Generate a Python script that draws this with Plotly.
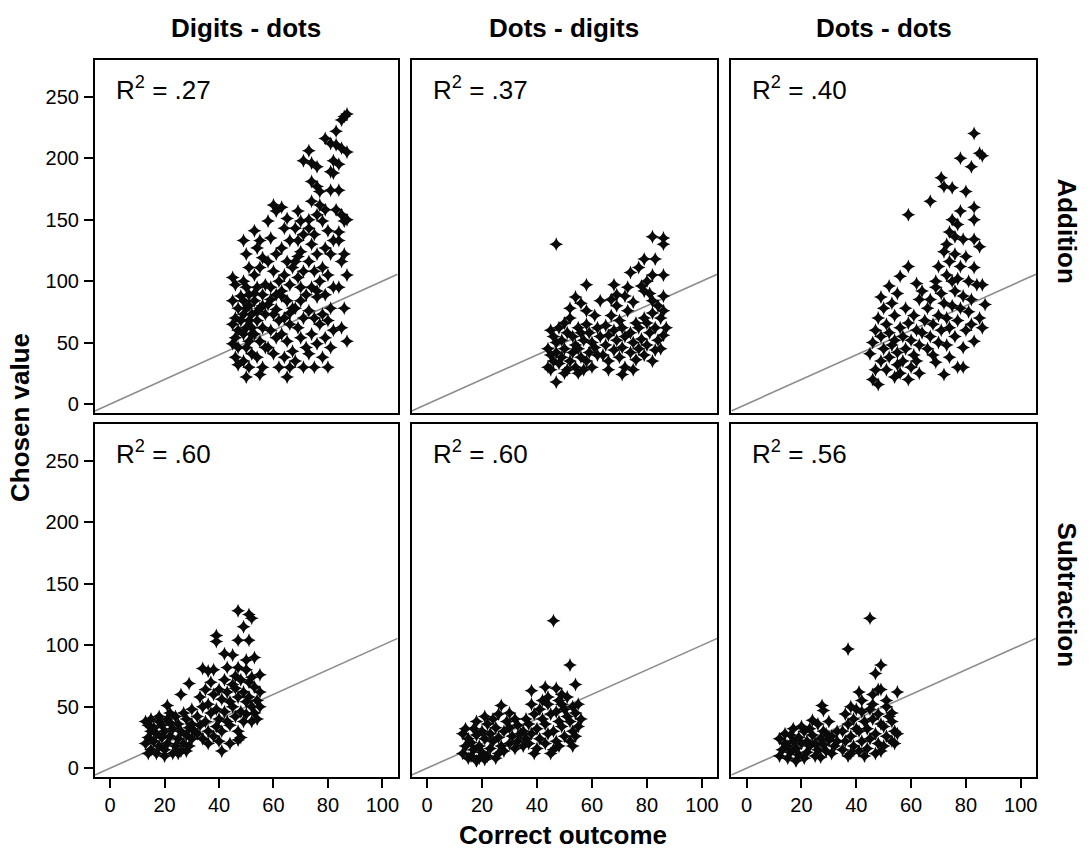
import plotly.graph_objects as go

# ---------------- data ----------------
columns = ["Digits - dots", "Dots - digits", "Dots - dots"]
rows = ["Addition", "Subtraction"]
r2_labels = [".27", ".37", ".40", ".60", ".60", ".56"]
x_ticks = [0, 20, 40, 60, 80, 100]
y_ticks = [0, 50, 100, 150, 200, 250]

add_digits_dots = [
    (45,103),(46,97),(45,84),(47,78),(46,70),(45,65),(47,60),(46,54),(45,49),(47,46),(46,38),(47,32),(48,68),(48,88),
    (49,133),(50,122),(51,111),(49,100),(50,95),(51,89),(49,84),(50,78),(52,73),(49,73),(51,68),(50,62),(52,57),(49,57),
    (51,51),(50,46),(52,41),(49,35),(51,30),(50,22),(52,62),(51,80),
    (53,141),(55,133),(54,127),(56,119),(55,111),(53,105),(57,97),(54,95),(56,89),(53,84),(55,78),(57,73),(54,68),
    (56,62),(53,57),(55,51),(57,46),(54,38),(56,30),(55,24),(53,90),(56,80),(54,75),
    (60,162),(61,157),(58,149),(59,135),(61,122),(58,116),(60,108),(62,100),(59,95),(61,89),(58,81),(60,73),(62,68),
    (59,60),(61,54),(58,46),(60,41),(62,30),(59,85),(61,77),
    (63,160),(65,151),(64,143),(66,133),(63,127),(65,116),(67,111),(64,105),(66,97),(63,92),(65,84),(67,78),(64,70),
    (66,65),(63,57),(65,51),(67,43),(64,38),(66,30),(65,22),(63,88),(66,74),
    (69,157),(70,149),(68,143),(71,138),(69,133),(70,124),(68,116),(71,108),(69,103),(70,95),(72,89),(68,78),(71,70),
    (69,62),(70,54),(72,46),(68,35),(71,30),(70,84),(69,120),
    (73,206),(71,198),(74,196),(76,193),(74,181),(76,177),(77,173),(74,165),(77,162),(76,154),(73,143),(75,138),
    (74,130),(76,122),(73,116),(75,108),(77,100),(74,95),(76,87),(73,76),(75,70),(77,65),(74,57),(76,49),(73,41),
    (75,30),(73,150),(76,92),
    (79,216),(81,212),(82,198),(81,189),(82,188),(79,158),(83,158),(78,149),(80,141),(82,133),(79,127),(81,122),
    (78,111),(80,105),(82,95),(79,89),(81,78),(78,73),(80,68),(82,60),(79,54),(81,46),(78,38),(80,30),(83,222),(81,174),
    (87,236),(86,234),(85,231),(83,211),(85,208),(87,205),(84,195),(84,174),(87,150),(85,154),(86,149),(84,133),
    (86,122),(85,116),(87,105),(84,95),(86,78),(85,62),(87,51),(84,140),
]

add_dots_digits = [
    (47,130),(82,136),(86,135),(86,130),(79,118),(83,118),(74,107),(77,111),(82,105),(86,105),(68,97),(58,97),
    (54,87),(56,82),(63,84),(69,89),(72,88),(79,92),(82,84),(86,88),
    (44,45),(45,40),(46,35),(44,30),(45,28),(47,50),(46,55),(48,62),(47,42),(48,33),(49,38),(50,45),(49,52),(51,58),
    (50,66),(52,70),(51,28),(52,35),(53,42),(54,48),(53,55),(55,62),(54,30),(56,38),(55,45),(57,52),(56,58),(58,65),
    (57,28),(58,35),(59,42),(60,50),(59,58),(61,72),(60,30),(62,40),(61,46),(63,55),(62,62),(47,18),(50,25),(55,25),
    (45,60),(52,78),(58,76),
    (64,40),(65,48),(66,56),(65,64),(67,72),(66,35),(68,44),(69,52),(68,60),(70,68),(69,80),(70,38),(71,46),(72,55),
    (71,62),(73,76),(72,30),(74,42),(75,50),(74,58),(76,66),(75,83),(76,36),(77,45),(78,53),(77,62),(79,70),(78,96),
    (79,40),(80,48),(81,58),(80,66),(82,74),(81,90),(83,44),(84,52),(83,62),(85,70),(84,80),(86,56),(85,45),(87,62),
    (71,24),(66,28),(75,28),(82,35),(86,76),(80,100),(73,95),(67,85),
]

add_dots_dots = [
    (83,220),(78,200),(82,193),(85,204),(86,202),(71,184),(72,177),(75,176),(80,173),(67,165),(59,154),(78,157),
    (83,160),(83,150),
    (75,150),(77,146),(74,140),(76,136),(73,130),(79,134),(83,134),(85,128),(72,124),(76,122),(80,120),(74,116),
    (78,112),(83,111),(70,112),(59,112),(73,105),(77,102),(81,100),(86,97),(69,100),(52,96),(49,87),(56,104),(62,98),
    (45,41),(46,20),(48,16),(46,50),(47,60),(48,70),(49,35),(50,45),(49,55),(51,65),(50,78),(51,28),(52,38),(53,48),
    (52,58),(54,72),(53,82),(54,22),(55,32),(55,42),(54,52),(56,62),(55,90),(47,28),
    (56,25),(57,35),(58,45),(57,55),(59,66),(58,78),(60,30),(61,40),(60,52),(62,60),(61,72),(63,85),(62,35),(63,48),
    (64,58),(65,68),(64,92),(59,20),(63,25),(66,78),
    (66,45),(67,55),(68,65),(67,85),(69,95),(68,40),(70,50),(71,60),(70,72),(72,82),(71,90),(73,48),(74,62),(73,70),
    (75,80),(76,92),(74,38),(76,55),(77,68),(78,78),(79,88),(77,30),(79,46),(80,60),(72,24),(79,30),(81,75),(82,85),
    (69,34),(75,100),
    (84,97),(87,81),(86,62),(83,51),(85,70),(82,65),
]

sub_digits_dots = [
    (47,128),(51,125),(52,122),(49,115),(39,108),(39,103),(47,104),(51,104),(42,93),(45,92),(50,88),(53,90),(34,81),
    (36,79),(38,80),(43,82),(47,82),(55,76),(29,69),(26,60),(21,51),(52,38),(47,23),(41,14),
    (13,20),(14,25),(15,30),(14,35),(13,38),(15,15),(16,22),(17,28),(16,33),(18,38),(17,12),(18,18),(19,25),(20,30),
    (19,35),(21,40),(20,15),(21,20),(22,26),(23,32),(22,37),(24,42),(23,12),(24,18),(25,24),(26,30),(25,36),(27,45),
    (26,14),(27,20),(28,27),(29,33),(28,40),(30,48),(29,18),(30,24),(31,30),(30,36),(15,40),(18,42),(22,45),(25,12),
    (28,14),(20,10),(14,12),
    (32,28),(33,35),(32,42),(34,50),(33,58),(35,64),(34,24),(36,30),(35,38),(37,45),(36,52),(38,60),(37,70),(38,26),
    (39,34),(40,40),(39,48),(41,56),(40,64),(42,72),(41,30),(43,38),(42,46),(44,54),(43,62),(45,68),(44,35),(46,42),
    (45,50),(47,58),(46,65),(48,72),(47,30),(49,38),(48,46),(50,54),(49,62),(51,70),(50,44),(52,50),(51,58),(53,66),
    (52,74),(54,55),(53,45),(55,62),(54,40),(48,25),(44,20),(40,22),(36,20),(46,75),(50,80),(55,50),
]

sub_dots_digits = [
    (46,120),(52,84),(54,68),(38,63),(43,66),(47,65),(27,51),(49,60),(44,58),(48,55),
    (13,12),(14,18),(15,24),(13,28),(16,10),(17,15),(16,21),(18,27),(17,32),(19,8),(20,13),(19,18),(21,24),(20,30),
    (22,36),(22,10),(23,16),(24,22),(23,28),(25,33),(24,40),(26,12),(27,18),(26,25),(28,30),(29,38),(28,14),(30,20),
    (31,26),(30,33),(32,16),(33,22),(34,28),(33,35),(35,18),(36,24),(15,8),(18,6),(21,7),(25,8),(14,32),(18,38),
    (21,42),(26,44),(30,45),(32,40),(35,30),
    (37,20),(38,28),(37,36),(39,44),(38,52),(40,16),(41,24),(40,32),(42,40),(41,48),(43,20),(44,28),(43,36),(45,44),
    (44,52),(46,15),(47,22),(46,30),(48,38),(47,46),(49,52),(48,18),(50,26),(49,34),(51,42),(50,48),(52,22),(53,30),
    (52,38),(54,45),(53,50),(55,34),(54,26),(56,40),(45,12),(42,55),(51,58),(36,40),(39,12),(53,18),(55,52),
]

sub_dots_dots = [
    (45,122),(37,97),(49,84),(47,77),(48,64),(49,64),(55,62),(41,62),(27.5,51),(28,47),(42,55),(38,50),(24,39),
    (46,60),(51,55),
    (12,10),(13,15),(14,20),(12,24),(15,8),(16,13),(15,18),(17,22),(16,27),(18,6),(19,11),(18,16),(20,20),(19,25),
    (21,30),(21,8),(22,13),(23,18),(22,22),(24,27),(23,32),(25,10),(26,15),(25,20),(27,24),(28,30),(27,9),(29,14),
    (28,19),(30,23),(29,28),(31,12),(32,18),(31,26),(33,22),(14,28),(17,32),(20,34),(26,36),(30,38),(33,30),
    (35,15),(36,22),(35,30),(37,36),(36,44),(38,12),(39,18),(38,26),(40,32),(39,40),(41,14),(42,22),(41,30),(43,38),
    (42,46),(44,16),(45,24),(44,32),(46,40),(45,48),(47,12),(48,20),(47,28),(49,36),(48,44),(50,18),(51,26),(50,34),
    (52,42),(51,50),(53,22),(54,30),(53,38),(55,28),(54,20),(46,52),(40,48),(37,10),(43,10),(49,14),(53,45),
]

panels = [add_digits_dots, add_dots_digits, add_dots_dots,
          sub_digits_dots, sub_dots_digits, sub_dots_dots]

# ---------------- layout geometry ----------------
W, H = 1089, 852
col_px = [(95, 398), (412, 718), (732, 1037)]
row_px = [(60, 414), (425, 779)]
x_range = [-5.6, 105.6]
y_range = [-7.3, 280]
FONT = "Liberation Sans, Arial, sans-serif"
TICK_SIZE = 20
LABEL_SIZE = 26

fig = go.Figure()
layout = dict(
    width=W, height=H, margin=dict(l=0, r=0, t=0, b=0),
    paper_bgcolor="white", plot_bgcolor="white", showlegend=False,
    font=dict(family=FONT, color="black"),
)
annotations = []

for i, pts in enumerate(panels):
    r, c = divmod(i, 3)
    n = i + 1
    xa = "x" if n == 1 else f"x{n}"
    ya = "y" if n == 1 else f"y{n}"
    xs = [p[0] for p in pts]
    ys = [p[1] for p in pts]
    # identity reference line
    fig.add_trace(go.Scatter(x=x_range, y=x_range, mode="lines",
                             line=dict(color="#8c8c8c", width=1.6),
                             xaxis=xa, yaxis=ya, hoverinfo="skip"))
    fig.add_trace(go.Scatter(x=xs, y=ys, mode="markers",
                             marker=dict(symbol="star-diamond", size=10, color="#0a0a0a",
                                         line=dict(width=0)),
                             xaxis=xa, yaxis=ya))
    x0, x1 = col_px[c]
    y0, y1 = row_px[r]
    xkey = "xaxis" if n == 1 else f"xaxis{n}"
    ykey = "yaxis" if n == 1 else f"yaxis{n}"
    bottom = (r == 1)
    left = (c == 0)
    layout[xkey] = dict(
        domain=[x0 / W, x1 / W], anchor=ya, range=x_range,
        showgrid=False, zeroline=False, showline=True, mirror=True,
        linecolor="black", linewidth=2,
        ticks="outside" if bottom else "", ticklen=9, tickwidth=2, tickcolor="black",
        tickvals=x_ticks, showticklabels=bottom,
        tickfont=dict(size=TICK_SIZE, family=FONT, color="black"),
    )
    layout[ykey] = dict(
        domain=[1 - y1 / H, 1 - y0 / H], anchor=xa, range=y_range,
        showgrid=False, zeroline=False, showline=True, mirror=True,
        linecolor="black", linewidth=2,
        ticks="outside" if left else "", ticklen=9, tickwidth=2, tickcolor="black",
        tickvals=y_ticks, showticklabels=left, ticklabelstandoff=1,
        tickfont=dict(size=TICK_SIZE, family=FONT, color="black"),
    )
    annotations.append(dict(
        text=f"R<sup>2</sup> = {r2_labels[i]}", xref="paper", yref="paper",
        x=(x0 + 19) / W, y=1 - (y0 + 29) / H, xanchor="left", yanchor="middle",
        showarrow=False, font=dict(size=LABEL_SIZE, family=FONT, color="black"),
    ))

for c, name in enumerate(columns):
    x0, x1 = col_px[c]
    annotations.append(dict(
        text=f"<b>{name}</b>", xref="paper", yref="paper",
        x=(x0 + x1) / 2 / W, y=1 - 28 / H, xanchor="center", yanchor="middle",
        showarrow=False, font=dict(size=LABEL_SIZE, family=FONT, color="black"),
    ))

for r, name in enumerate(rows):
    y0, y1 = row_px[r]
    annotations.append(dict(
        text=f"<b>{name}</b>", xref="paper", yref="paper",
        x=1068 / W, y=1 - ((y0 + y1) / 2 - 6) / H, xanchor="center", yanchor="middle",
        textangle=90, showarrow=False, font=dict(size=LABEL_SIZE, family=FONT, color="black"),
    ))

annotations.append(dict(
    text="<b>Chosen value</b>", xref="paper", yref="paper",
    x=20 / W, y=1 - 418 / H, xanchor="center", yanchor="middle",
    textangle=-90, showarrow=False, font=dict(size=LABEL_SIZE, family=FONT, color="black"),
))
annotations.append(dict(
    text="<b>Correct outcome</b>", xref="paper", yref="paper",
    x=564 / W, y=1 - 837 / H, xanchor="center", yanchor="middle",
    showarrow=False, font=dict(size=LABEL_SIZE, family=FONT, color="black"),
))

layout["annotations"] = annotations
fig.update_layout(**layout)
fig.write_html("out.html")
